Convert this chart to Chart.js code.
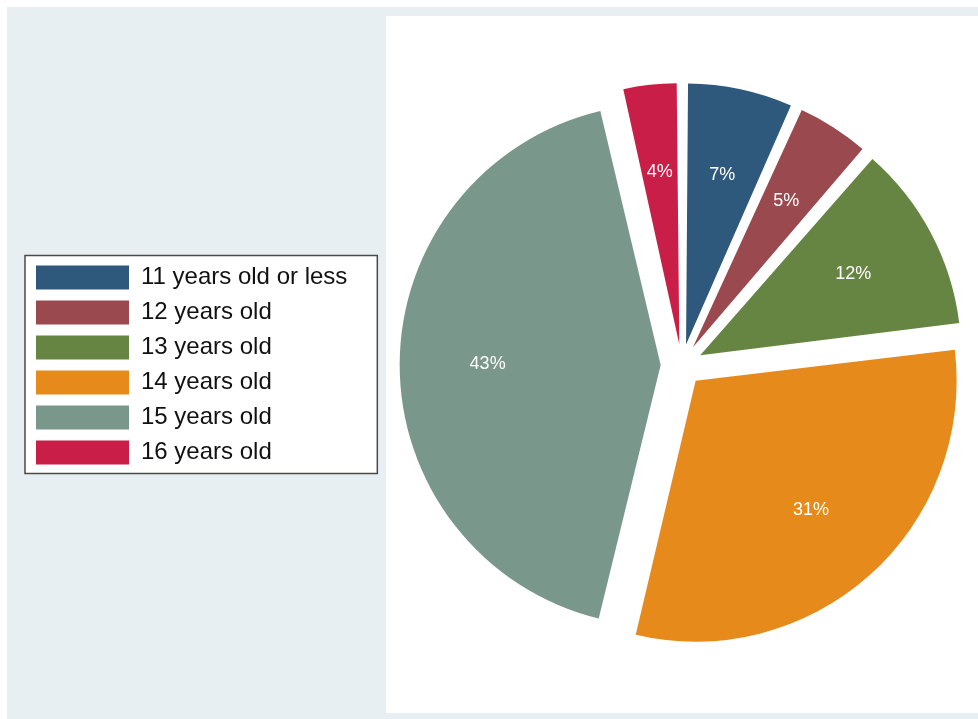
<!DOCTYPE html>
<html>
<head>
<meta charset="utf-8">
<title>Age distribution</title>
<script src="https://cdn.jsdelivr.net/npm/chart.js@4/dist/chart.umd.min.js"></script>
<style>
  html, body { margin: 0; padding: 0; background: #fff; overflow: hidden; }
  canvas { display: block; }
</style>
</head>
<body>
<!-- canvas is a bit wider than the window so the pie sits where it does in the original -->
<canvas id="ageChart" width="1006" height="719"></canvas>
<script>
(function(){
  // Data
  const ageGroups = ["11 years old or less", "12 years old", "13 years old", "14 years old", "15 years old", "16 years old"];
  const sharePct = [6.7, 4.7, 11.7, 30.6, 42.7, 3.6];
  const sliceColors = ["#2f597c", "#9a4a4f", "#668543", "#e68a1b", "#7a978c", "#c81e47"];

  const PIE_RADIUS = 261;
  const EXPLODE = 84; // chart.js moves a slice by offset / 4

  // Stata-like backdrop: bluish outer region, white plot region, framed legend
  const backdrop = {
    id: "backdrop",
    beforeDraw(chart){
      const ctx = chart.ctx;
      ctx.save();
      ctx.fillStyle = "#ffffff";
      ctx.fillRect(0, 0, chart.width, chart.height);
      ctx.fillStyle = "#e8eff2";
      ctx.fillRect(7, 7, chart.width - 7, chart.height - 7);
      ctx.fillStyle = "#ffffff";
      ctx.fillRect(386, 16, chart.width - 386, chart.height - 22);

      const lg = chart.legend;
      if (lg && lg.legendHitBoxes && lg.legendHitBoxes.length){
        const boxes = lg.legendHitBoxes;
        const first = boxes[0], last = boxes[boxes.length - 1];
        const maxRight = Math.max(...boxes.map(b => b.left + b.width));
        const x = lg.left, y = first.top - 10;
        const w = maxRight + 30 - x, h = last.top + last.height + 9 - y;
        ctx.fillStyle = "#ffffff";
        ctx.fillRect(x, y, w, h);
        ctx.strokeStyle = "#4a4a4a";
        ctx.lineWidth = 1.5;
        ctx.strokeRect(x, y, w, h);
      }
      ctx.restore();
    }
  };

  // keep exploded slices at the same radius (chart.js grows them a bit)
  const evenRadius = {
    id: "evenRadius",
    beforeDatasetDraw(chart, args){
      args.meta.data.forEach(arc => {
        const shift = (arc.options.offset || 0) / 4;
        const fix = 1 - Math.sin(Math.min(Math.PI, arc.circumference || 0));
        arc._r0 = arc.outerRadius;
        arc.outerRadius = arc._r0 - shift * fix;
      });
    },
    afterDatasetDraw(chart, args){
      args.meta.data.forEach(arc => { arc.outerRadius = arc._r0; });
    }
  };

  // percent labels inside the slices
  const sliceLabels = {
    id: "sliceLabels",
    afterDatasetsDraw(chart){
      const meta = chart.getDatasetMeta(0);
      const ctx = chart.ctx;
      ctx.save();
      ctx.fillStyle = "#ffffff";
      ctx.font = "18px 'Liberation Sans', Arial, sans-serif";
      ctx.textAlign = "center";
      ctx.textBaseline = "middle";
      meta.data.forEach((arc, i) => {
        const mid = (arc.startAngle + arc.endAngle) / 2;
        const dist = (arc.options.offset || 0) / 4 + arc.outerRadius * 0.663;
        const x = arc.x + Math.cos(mid) * dist;
        const y = arc.y + Math.sin(mid) * dist;
        ctx.fillText(Math.round(sharePct[i]) + "%", x, y);
      });
      ctx.restore();
    }
  };

  new Chart(document.getElementById("ageChart").getContext("2d"), {
    type: "pie",
    data: {
      labels: ageGroups,
      datasets: [{
        data: sharePct,
        backgroundColor: sliceColors,
        borderWidth: 0,
        offset: EXPLODE,
        hoverOffset: EXPLODE
      }]
    },
    options: {
      responsive: false,
      animation: false,
      devicePixelRatio: 1,
      radius: PIE_RADIUS,
      layout: { padding: { left: 25, top: 11, bottom: 0, right: 0 } },
      plugins: {
        tooltip: { enabled: false },
        legend: {
          position: "left",
          align: "center",
          labels: {
            boxWidth: 93,
            boxHeight: 24,
            padding: 11,
            color: "#111",
            font: { family: "'Liberation Sans', Arial, sans-serif", size: 24 }
          }
        }
      }
    },
    plugins: [backdrop, evenRadius, sliceLabels]
  });
})();
</script>
</body>
</html>
